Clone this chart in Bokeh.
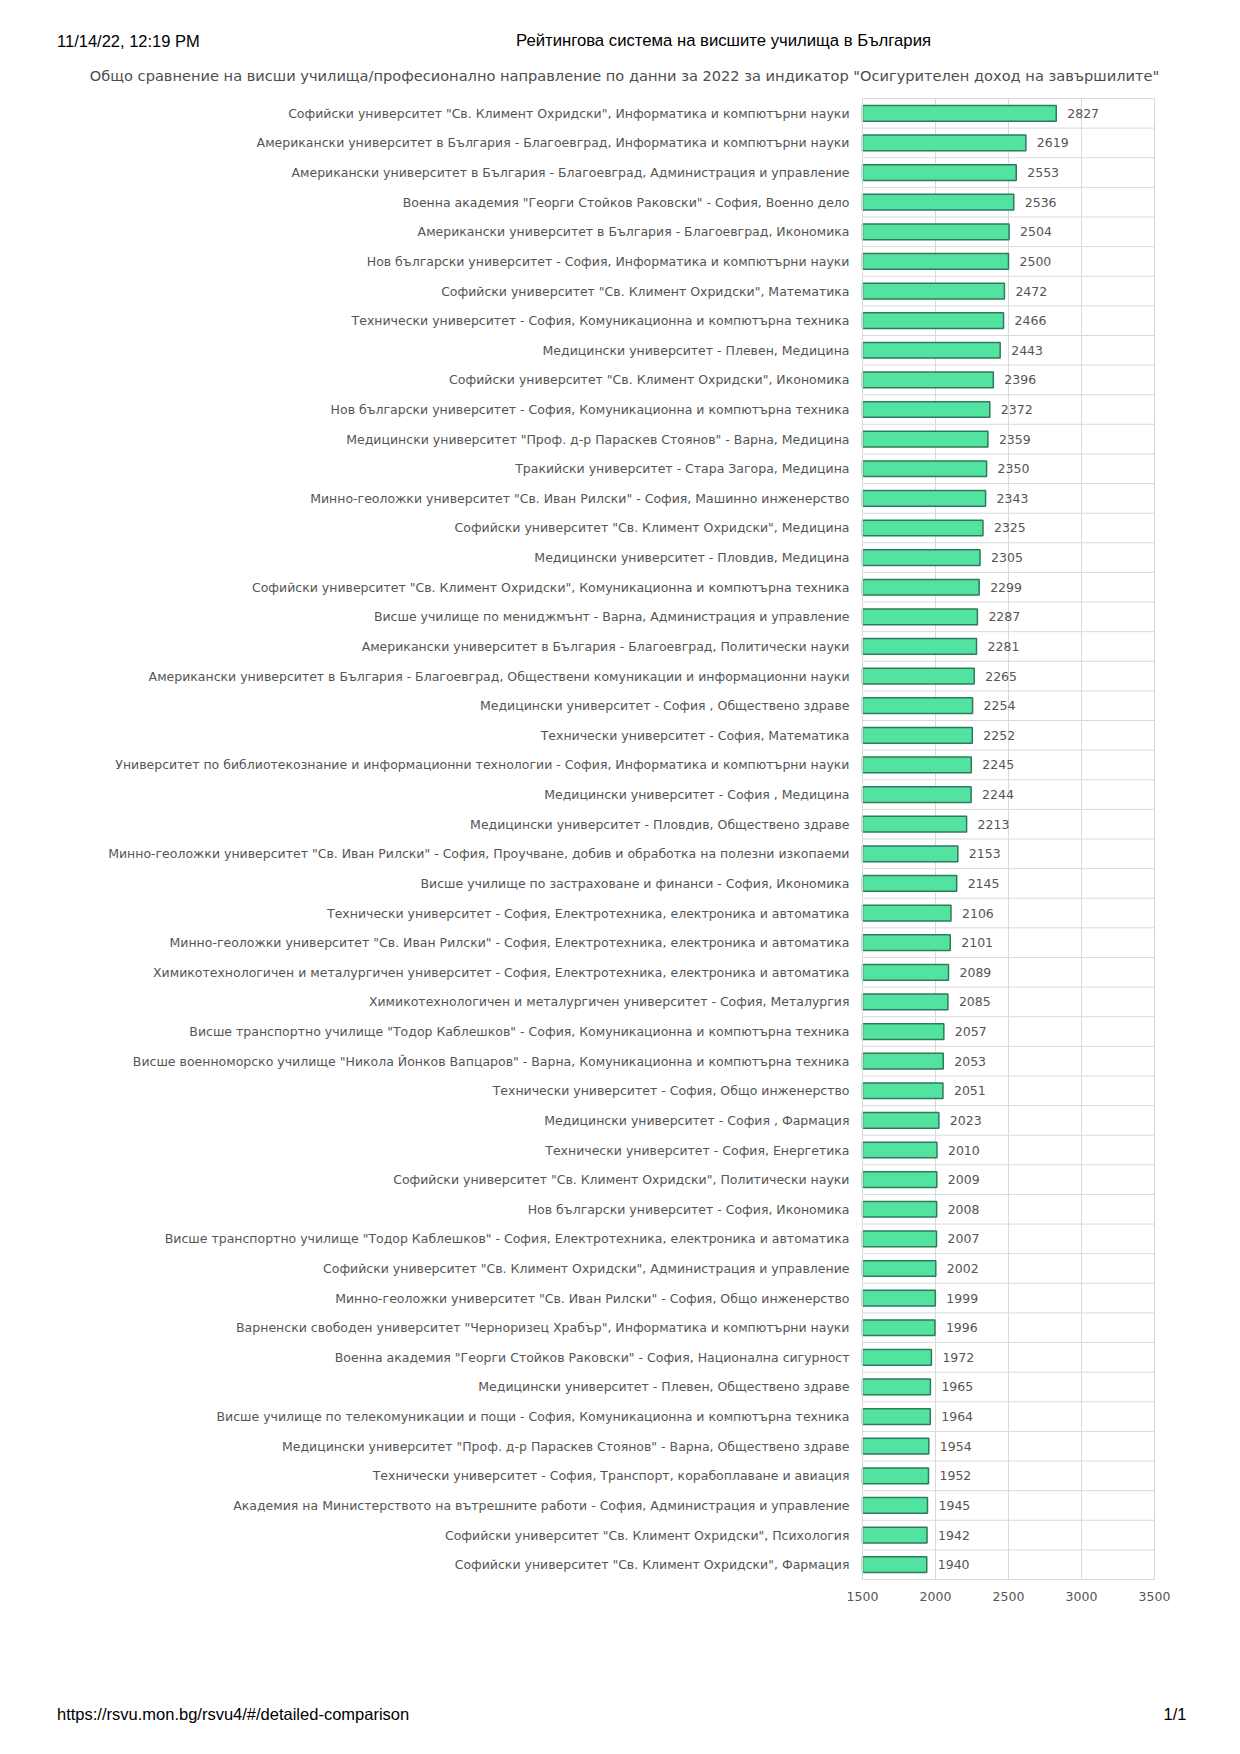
from bokeh.plotting import figure
from bokeh.models import ColumnDataSource, Range1d, FixedTicker
from bokeh.embed import file_html
from bokeh.resources import INLINE
from bokeh.core.properties import value

labels = [
    'Софийски университет "Св. Климент Охридски", Информатика и компютърни науки',
    'Американски университет в България - Благоевград, Информатика и компютърни науки',
    'Американски университет в България - Благоевград, Администрация и управление',
    'Военна академия "Георги Стойков Раковски" - София, Военно дело',
    'Американски университет в България - Благоевград, Икономика',
    'Нов български университет - София, Информатика и компютърни науки',
    'Софийски университет "Св. Климент Охридски", Математика',
    'Технически университет - София, Комуникационна и компютърна техника',
    'Медицински университет - Плевен, Медицина',
    'Софийски университет "Св. Климент Охридски", Икономика',
    'Нов български университет - София, Комуникационна и компютърна техника',
    'Медицински университет "Проф. д-р Параскев Стоянов" - Варна, Медицина',
    'Тракийски университет - Стара Загора, Медицина',
    'Минно-геоложки университет "Св. Иван Рилски" - София, Машинно инженерство',
    'Софийски университет "Св. Климент Охридски", Медицина',
    'Медицински университет - Пловдив, Медицина',
    'Софийски университет "Св. Климент Охридски", Комуникационна и компютърна техника',
    'Висше училище по мениджмънт - Варна, Администрация и управление',
    'Американски университет в България - Благоевград, Политически науки',
    'Американски университет в България - Благоевград, Обществени комуникации и информационни науки',
    'Медицински университет - София , Обществено здраве',
    'Технически университет - София, Математика',
    'Университет по библиотекознание и информационни технологии - София, Информатика и компютърни науки',
    'Медицински университет - София , Медицина',
    'Медицински университет - Пловдив, Обществено здраве',
    'Минно-геоложки университет "Св. Иван Рилски" - София, Проучване, добив и обработка на полезни изкопаеми',
    'Висше училище по застраховане и финанси - София, Икономика',
    'Технически университет - София, Електротехника, електроника и автоматика',
    'Минно-геоложки университет "Св. Иван Рилски" - София, Електротехника, електроника и автоматика',
    'Химикотехнологичен и металургичен университет - София, Електротехника, електроника и автоматика',
    'Химикотехнологичен и металургичен университет - София, Металургия',
    'Висше транспортно училище "Тодор Каблешков" - София, Комуникационна и компютърна техника',
    'Висше военноморско училище "Никола Йонков Вапцаров" - Варна, Комуникационна и компютърна техника',
    'Технически университет - София, Общо инженерство',
    'Медицински университет - София , Фармация',
    'Технически университет - София, Енергетика',
    'Софийски университет "Св. Климент Охридски", Политически науки',
    'Нов български университет - София, Икономика',
    'Висше транспортно училище "Тодор Каблешков" - София, Електротехника, електроника и автоматика',
    'Софийски университет "Св. Климент Охридски", Администрация и управление',
    'Минно-геоложки университет "Св. Иван Рилски" - София, Общо инженерство',
    'Варненски свободен университет "Черноризец Храбър", Информатика и компютърни науки',
    'Военна академия "Георги Стойков Раковски" - София, Национална сигурност',
    'Медицински университет - Плевен, Обществено здраве',
    'Висше училище по телекомуникации и пощи - София, Комуникационна и компютърна техника',
    'Медицински университет "Проф. д-р Параскев Стоянов" - Варна, Обществено здраве',
    'Технически университет - София, Транспорт, корабоплаване и авиация',
    'Академия на Министерството на вътрешните работи - София, Администрация и управление',
    'Софийски университет "Св. Климент Охридски", Психология',
    'Софийски университет "Св. Климент Охридски", Фармация',
]

values = [2827, 2619, 2553, 2536, 2504, 2500, 2472, 2466, 2443, 2396,
          2372, 2359, 2350, 2343, 2325, 2305, 2299, 2287, 2281, 2265,
          2254, 2252, 2245, 2244, 2213, 2153, 2145, 2106, 2101, 2089,
          2085, 2057, 2053, 2051, 2023, 2010, 2009, 2008, 2007, 2002,
          1999, 1996, 1972, 1965, 1964, 1954, 1952, 1945, 1942, 1940]

x_ticks = [1500, 2000, 2500, 3000, 3500]

header_left = "11/14/22, 12:19 PM"
header_title = "Рейтингова система на висшите училища в България"
chart_title = 'Общо сравнение на висши училища/професионално направление по данни за 2022 за индикатор "Осигурителен доход на завършилите"'
footer_left = "https://rsvu.mon.bg/rsvu4/#/detailed-comparison"
footer_right = "1/1"

# page layout in pixels: the plotting frame covers the whole page,
# the chart area sits at (CL, CT) with size CW x CH
W, H = 1240, 1754
CL, CT, CW, CH = 862, 98, 292, 1481

FONT = "DejaVu Sans"
GRID = "#d9d9d9"

n = len(labels)
x0, x1 = x_ticks[0], x_ticks[-1]
kx = (x1 - x0) / CW          # data units per pixel (x)
ky = n / CH                  # rows per pixel (y)

x_range = Range1d(x0 - CL * kx, x1 + (W - CL - CW) * kx)
y_range = Range1d(n + (H - CT - CH) * ky, -CT * ky)   # top row at the top


def px_x(px):
    return x0 + (px - CL) * kx


def px_y(py):
    return (py - CT) * ky


pos = [i + 0.5 for i in range(n)]
src = ColumnDataSource(dict(y=pos, v=values, t=[str(v) for v in values]))

p = figure(width=W, height=H, output_backend="svg", toolbar_location=None,
           x_range=x_range, y_range=y_range, min_border=0,
           min_border_left=0, min_border_right=0, min_border_top=0, min_border_bottom=0)
p.background_fill_color = "white"
p.border_fill_color = "white"
p.outline_line_color = None
p.grid.visible = False

# chart grid: row separators and value gridlines, limited to the chart area
bounds = list(range(n + 1))
p.segment(x0=[x0] * len(bounds), x1=[x1] * len(bounds), y0=bounds, y1=bounds,
          line_color=GRID, line_width=1)
p.segment(x0=x_ticks, x1=x_ticks, y0=[0] * len(x_ticks), y1=[n] * len(x_ticks),
          line_color=GRID, line_width=1)

p.hbar(y="y", left=x0, right="v", height=0.53, source=src,
       fill_color="#52e3a1", line_color="#2f7a5c", line_width=1.5)

p.text(x="v", y="y", text="t", source=src, x_offset=11, text_align="left",
       text_baseline="middle", text_font=value(FONT), text_font_size="12.5px",
       text_color="#555555")

# axes fixed at the chart edges
p.xaxis.fixed_location = n
p.xaxis.bounds = (x0, x1)
p.xaxis.ticker = FixedTicker(ticks=x_ticks)
p.xaxis.major_tick_line_color = None
p.xaxis.minor_tick_line_color = None
p.xaxis.axis_line_color = GRID
p.xaxis.major_label_standoff = 6
p.xaxis.major_label_text_font = FONT
p.xaxis.major_label_text_font_size = "12.5px"
p.xaxis.major_label_text_color = "#555555"

p.yaxis.fixed_location = x0
p.yaxis.bounds = (0, n)
p.yaxis.ticker = FixedTicker(ticks=pos)
p.yaxis.major_label_overrides = {pp: lab for pp, lab in zip(pos, labels)}
p.yaxis.major_tick_line_color = None
p.yaxis.minor_tick_line_color = None
p.yaxis.axis_line_color = GRID
p.yaxis.major_label_standoff = 7
p.yaxis.major_label_text_font = FONT
p.yaxis.major_label_text_font_size = "12.5px"
p.yaxis.major_label_text_color = "#555555"


def page_text(txt, px, py, font, size, color, align):
    p.text(x=[px_x(px)], y=[px_y(py)], text=[txt], text_font=value(font),
           text_font_size=size, text_color=color, text_align=align,
           text_baseline="middle")


page_text(header_left, 56.5, 40, "Liberation Sans", "16.5px", "black", "left")
page_text(header_title, 723, 40, "Liberation Sans", "16.7px", "black", "center")
page_text(chart_title, 624, 75, FONT, "14.6px", "#4d4d4d", "center")
page_text(footer_left, 56.5, 1713, "Liberation Sans", "16.5px", "black", "left")
page_text(footer_right, 1186, 1713, "Liberation Sans", "16.5px", "black", "right")

open("out.html", "w").write(file_html(p, INLINE))
